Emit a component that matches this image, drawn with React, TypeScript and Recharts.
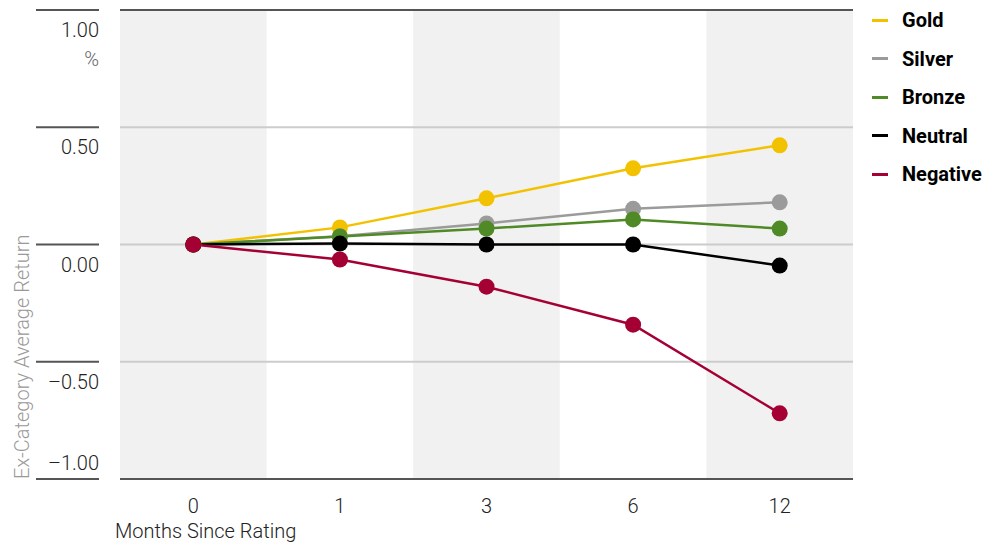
import {
  LineChart,
  Line,
  XAxis,
  YAxis,
  ReferenceArea,
  ReferenceLine
} from 'recharts';

const months = ['0', '1', '3', '6', '12'];
const gold = [0, 0.073, 0.197, 0.325, 0.423];
const silver = [0, 0.035, 0.09, 0.152, 0.18];
const bronze = [0, 0.034, 0.068, 0.107, 0.068];
const neutral = [0, 0.004, 0.0, 0.0, -0.09];
const negative = [0, -0.064, -0.18, -0.342, -0.72];
const yTicks = [-1, -0.5, 0, 0.5, 1];

const series = [
  { key: 'gold', name: 'Gold', color: '#F2C200', values: gold },
  { key: 'silver', name: 'Silver', color: '#9B9B9B', values: silver },
  { key: 'bronze', name: 'Bronze', color: '#4F8A26', values: bronze },
  { key: 'neutral', name: 'Neutral', color: '#000000', values: neutral },
  { key: 'negative', name: 'Negative', color: '#A50034', values: negative }
];

const data = months.map((m, i) => {
  const row: { [k: string]: number | string } = { idx: i, month: m };
  series.forEach((s) => {
    row[s.key] = s.values[i];
  });
  return row;
});

const FONT = 'Roboto, "Liberation Sans", sans-serif';

const fmt = (v: number) => {
  const s = Math.abs(v).toFixed(2);
  return v < 0 ? `\u2013${s}` : s;
};

function YTick(props: any) {
  const { x, y, payload } = props;
  const v = payload.value as number;
  // the bottom label sits above its line, the rest below
  const ty = v === -1 ? y - 9 : y + 27;
  return (
    <g>
      <line x1={x - 63} x2={x} y1={y} y2={y} stroke="#555" strokeWidth={2} />
      <text x={x} y={ty} textAnchor="end" fontSize={20} fontWeight={300} fill="#222" fontFamily={FONT}>
        {fmt(v)}
      </text>
      {v === 1 && (
        <text x={x} y={y + 56} textAnchor="end" fontSize={20} fontWeight={300} fill="#666" fontFamily={FONT}>
          %
        </text>
      )}
    </g>
  );
}

function XTick(props: any) {
  const { x, y, payload } = props;
  return (
    <text x={x} y={y + 26} textAnchor="middle" fontSize={20} fontWeight={300} fill="#222" fontFamily={FONT}>
      {months[payload.value]}
    </text>
  );
}

export default function App() {
  return (
    <div style={{ position: 'absolute', left: 0, top: 0, width: 1000, height: 546, background: '#fff' }}>
      <LineChart width={1000} height={546} data={data} margin={{ top: 10, right: 147, left: 0, bottom: 0 }}>
        {[0, 2, 4].map((i) => (
          <ReferenceArea key={i} x1={i - 0.5} x2={i + 0.5} y1={-1} y2={1} fill="#F1F1F1" fillOpacity={1} stroke="none" ifOverflow="visible" />
        ))}
        {[0.5, 0, -0.5].map((v) => (
          <ReferenceLine key={v} y={v} stroke="#CCCCCC" strokeWidth={2} />
        ))}
        <ReferenceLine y={1} stroke="#555" strokeWidth={2} />
        <ReferenceLine y={-1} stroke="#555" strokeWidth={2} />
        <XAxis
          dataKey="idx"
          type="number"
          domain={[-0.5, 4.5]}
          ticks={[0, 1, 2, 3, 4]}
          tick={<XTick />}
          tickLine={false}
          axisLine={false}
          tickSize={0}
          tickMargin={8}
          height={67}
          label={{
            content: (p: any) => {
              const vb = p.viewBox;
              return (
                <text x={vb.x - 5} y={vb.y + 59} fontSize={20} fontWeight={300} fill="#222" fontFamily={FONT}>
                  Months Since Rating
                </text>
              );
            }
          }}
        />
        <YAxis
          type="number"
          domain={[-1, 1]}
          ticks={yTicks}
          width={120}
          tick={<YTick />}
          tickLine={false}
          axisLine={false}
          tickSize={0}
          tickMargin={21}
          interval={0}
          label={{
            content: (p: any) => {
              const vb = p.viewBox;
              const bx = 29;
              const by = vb.y + vb.height;
              return (
                <text
                  x={bx}
                  y={by}
                  transform={`rotate(-90 ${bx} ${by})`}
                  textAnchor="start"
                  fontSize={20}
                  fontWeight={300}
                  fill="#999"
                  fontFamily={FONT}
                >
                  Ex-Category Average Return
                </text>
              );
            }
          }}
        />
        {series.map((s) => (
          <Line
            key={s.key}
            dataKey={s.key}
            name={s.name}
            type="linear"
            stroke={s.color}
            strokeWidth={2.5}
            dot={{ r: 8, fill: s.color, stroke: 'none' }}
            activeDot={false}
            isAnimationActive={false}
          />
        ))}
      </LineChart>
      <div style={{ position: 'absolute', left: 872, top: 1, fontFamily: FONT }}>
        {series.map((s) => (
          <div key={s.key} style={{ display: 'flex', alignItems: 'center', height: 38.5 }}>
            <span style={{ display: 'inline-block', width: 16, height: 3, background: s.color, marginRight: 14 }} />
            <span style={{ fontSize: 20, fontWeight: 700, color: '#000' }}>{s.name}</span>
          </div>
        ))}
      </div>
    </div>
  );
}
